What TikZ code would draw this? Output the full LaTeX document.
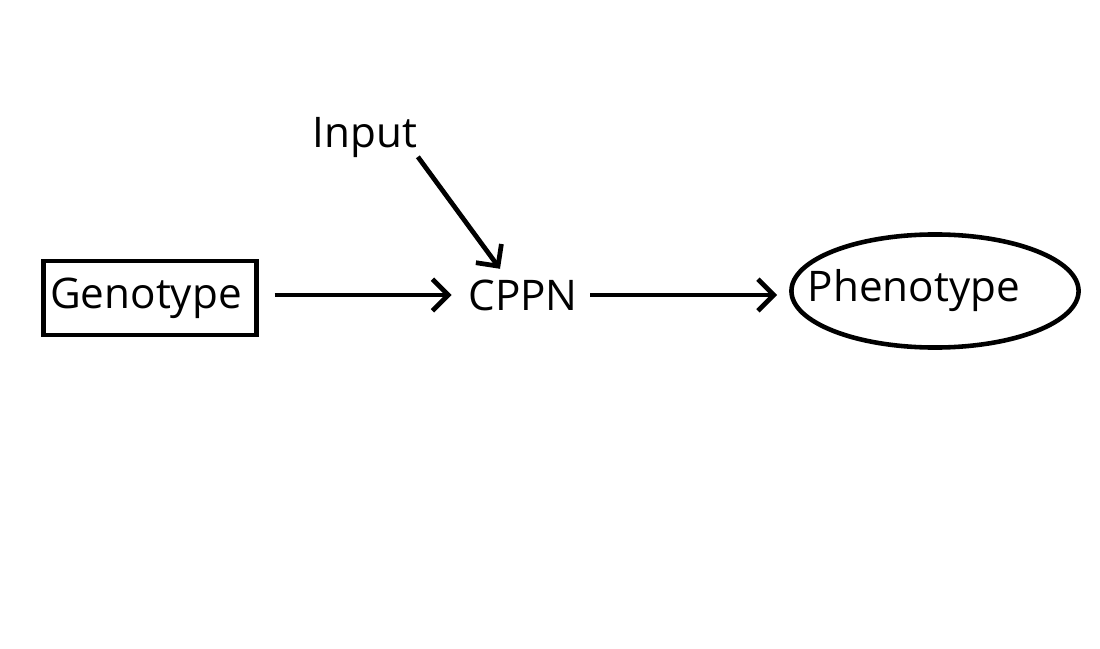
\documentclass[tikz,border=0pt]{standalone}
\usepackage{fontspec}
\setmainfont{Open Sans}
\usetikzlibrary{positioning,arrows.meta,shapes.geometric}
\tikzset{
  genbox/.style={draw,line width=1.4pt,minimum width=2.12cm,minimum height=0.74cm,inner sep=0pt},
  phenobox/.style={draw,ellipse,line width=1.3pt,minimum width=2.87cm,minimum height=1.13cm,inner sep=0pt},
  plain/.style={inner sep=0pt},
  flow/.style={-{Straight Barb[length=4.5pt,width=9pt]},line width=1.35pt},
}
\begin{document}
\begin{tikzpicture}[x=0.01cm,y=0.01cm,font=\fontsize{12}{14}\selectfont]
  \useasboundingbox (0,0) rectangle (1100,648);
  % the three stages, left to right
  \node[genbox] (geno) at (150,350) {\hspace*{-0.08cm}Genotype};
  \node[plain] (cppn) at (523,353) {CPPN};
  \node[phenobox] (pheno) at (935,357) {\makebox[0pt]{Phenotype\hspace*{0.42cm}}};
  \node[plain] (inp) at (365,510) {Input};
  % connectors
  \draw[flow,shorten <=0.16cm,shorten >=0.16cm] (geno.east |- cppn) -- (cppn.west);
  \draw[flow,shorten <=0.12cm,shorten >=0.12cm] (cppn.east) -- (pheno.west |- cppn.east);
  \draw[flow] ([yshift=0.02cm]inp.south east) -- ([xshift=-0.23cm,yshift=0.1cm]cppn.north);
\end{tikzpicture}
\end{document}
